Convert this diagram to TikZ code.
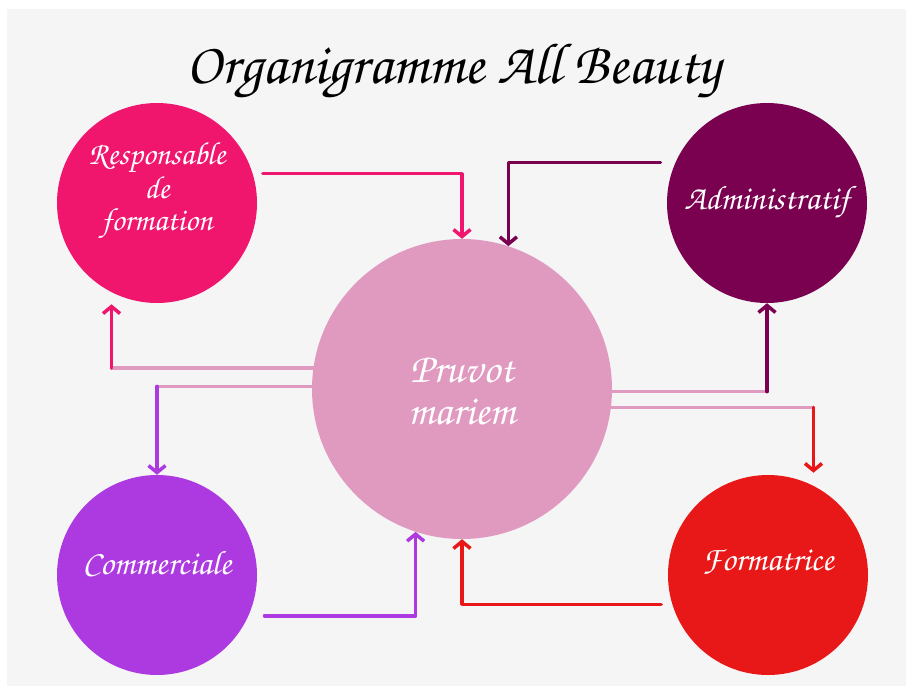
\documentclass[tikz,border=0pt]{standalone}
\usepackage[T1,TU]{fontenc}
\usetikzlibrary{arrows.meta,calc}
\definecolor{bg}{RGB}{245,245,245}
\definecolor{cresp}{RGB}{240,22,110}
\definecolor{cadmin}{RGB}{122,0,80}
\definecolor{cpruvot}{RGB}{224,154,192}
\definecolor{ccomm}{RGB}{173,58,224}
\definecolor{cform}{RGB}{232,24,24}
\newcommand{\scriptfnt}{\fontencoding{T1}\fontfamily{pzc}\fontseries{mb}\fontshape{it}\selectfont}
\begin{document}
\begin{tikzpicture}[x=1pt,y=-1pt,
  bubble/.style={circle, minimum size=200pt, inner sep=0pt},
  lbl/.style={text=white, font=\scriptfnt\fontsize{34}{36}\selectfont, align=center},
  conn/.style={line width=3.5pt, line cap=round, line join=round},
  tip/.style={conn, -{Straight Barb[length=7pt,width=17pt]}}]
\fill[white] (0,0) rectangle (906,686);
\fill[bg] (7,9) rectangle (906,686);
\useasboundingbox (0,0) rectangle (906,686);

\node[font=\scriptfnt\fontsize{58}{64}\selectfont] (title) at (454,72) {Organigramme All Beauty};

\node[bubble, fill=cresp, label={[lbl, font=\scriptfnt\fontsize{32}{32}\selectfont, yshift=12pt]center:{Responsable\\de\\formation}}] (R) at (157,203) {};
\node[bubble, fill=cadmin, label={[lbl]center:Administratif}] (A) at (767,203) {};
\node[bubble, fill=cpruvot, minimum size=300pt, label={[lbl, font=\scriptfnt\fontsize{42}{42}\selectfont, yshift=-2pt]center:{Pruvot\\mariem}}] (P) at (462,389) {};
\node[bubble, fill=ccomm, label={[lbl, yshift=12pt]center:Commerciale}] (C) at (157,575) {};
\node[bubble, fill=cform, label={[lbl, yshift=13pt]center:Formatrice}] (F) at (768,575) {};

% Responsable -> Pruvot
\draw[tip, cresp] ([xshift=10pt]R.17) -| (P.north);
% Administratif -> Pruvot
\draw[tip, cadmin] ([xshift=-15pt]A.156) -| (P.72);
% Commerciale -> Pruvot
\draw[tip, ccomm] ([xshift=16pt]C.-24) -| (P.252.5);
% Formatrice -> Pruvot
\draw[tip, cform] ([xshift=-11pt]F.197) -| (P.south);

% Pruvot -> Responsable
\coordinate (rt) at ([yshift=-12pt]R.243);
\coordinate (k3) at (P.172.6 -| rt);
\draw[conn, cpruvot] (P.172.6) -- (k3);
\draw[tip, cresp] (k3) -- (rt);
% Pruvot -> Commerciale
\coordinate (k4) at (P.179 -| C.north);
\draw[conn, cpruvot] (P.179) -- (k4);
\draw[tip, ccomm] (k4) -- (C.north);
% Pruvot -> Administratif
\coordinate (k5) at (P.359 -| A.south);
\draw[conn, cpruvot] (P.359) -- (k5);
\draw[tip, cadmin] (k5) -- (A.south);
% Pruvot -> Formatrice
\coordinate (ft) at ([yshift=13pt]F.63);
\coordinate (k6) at (P.-7.3 -| ft);
\draw[conn, cpruvot] (P.-7.3) -- (k6);
\draw[tip, cform] (k6) -- (ft);
\end{tikzpicture}
\end{document}
